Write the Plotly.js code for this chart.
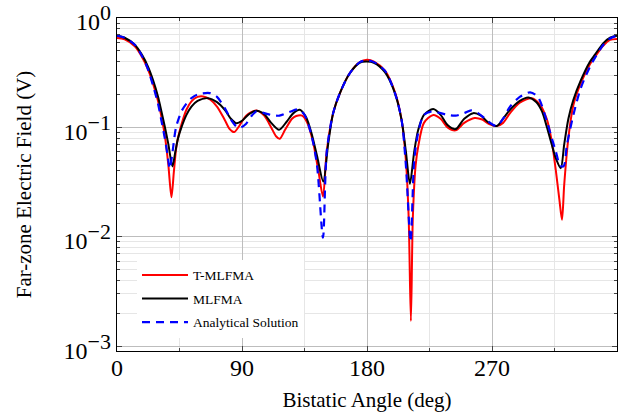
<!DOCTYPE html>
<html>
<head>
<meta charset="utf-8">
<script src="https://cdn.plot.ly/plotly-3.0.1.min.js"></script>
<style>html,body{margin:0;padding:0;background:#fff;}#chart{width:619px;height:420px;}</style>
</head>
<body>
<div id="chart"></div>
<script>
// T-MLFMA
var tmlfmaDeg = [0,5.5,12.8,18,22.3,26,29.5,32,34.4,37,39.2,41,43,46.4,50,53.6,58,62,67,72,77.6,81,84.3,88,93,100.4,106,111,114.5,117.2,121,126,129,133.3,137,141,145,148.3,151,155.6,160.5,167.7,174.9,180,185,192.9,200.1,204.9,208,210,211.6,213,215,216.9,221,227.7,233,238,243.8,250,257.5,263,268,273.4,278,283,290,298.6,304,309.4,313,316,318.5,320.4,322,325,328.6,334,340.6,344,350.2,355,360];
var tmlfmaVal = [0.656,0.64,0.55,0.44,0.34,0.25,0.175,0.125,0.085,0.045,0.023,0.04,0.07,0.106,0.145,0.173,0.19,0.192,0.18,0.155,0.117,0.097,0.0906,0.103,0.128,0.143,0.128,0.1,0.083,0.0787,0.095,0.12,0.127,0.128,0.11,0.075,0.04,0.0233,0.06,0.135,0.206,0.314,0.395,0.415,0.40,0.33,0.21,0.117,0.05,0.015,0.0017,0.015,0.045,0.067,0.11,0.13,0.12,0.1,0.094,0.11,0.122,0.118,0.107,0.103,0.11,0.135,0.168,0.185,0.165,0.12,0.075,0.04,0.022,0.0143,0.03,0.08,0.16,0.255,0.38,0.44,0.56,0.63,0.643];
// MLFMA
var mlfmaDeg = [0,5.5,12.8,18,22.3,26,29.5,32,34.4,37,39.9,42,44,46.4,50,53.6,58,65.6,72,77.6,82,86,90,95,100.4,106,111,116.7,122,127,131.6,136,140,144,148.5,152,155.6,160.5,167.7,174.9,180,185,192.9,200.1,204.9,208,210.9,214,216.9,221,227.7,233,238,243.8,250,256.5,262,267,273.4,278,283,290,296.2,302,306,309.4,313,316,319.5,322,325,328.6,334,340.6,344,350.2,355,360];
var mlfmaVal = [0.689,0.66,0.57,0.46,0.36,0.27,0.192,0.14,0.102,0.07,0.044,0.06,0.08,0.1,0.13,0.155,0.175,0.185,0.17,0.145,0.12,0.109,0.115,0.132,0.142,0.132,0.11,0.095,0.112,0.135,0.145,0.125,0.089,0.055,0.032,0.07,0.135,0.206,0.314,0.392,0.40,0.39,0.32,0.206,0.117,0.06,0.0305,0.06,0.095,0.13,0.147,0.13,0.105,0.0965,0.12,0.135,0.128,0.112,0.103,0.12,0.145,0.175,0.188,0.17,0.14,0.102,0.07,0.052,0.0424,0.07,0.12,0.179,0.27,0.40,0.46,0.59,0.66,0.689];
// Analytical Solution
var analyticDeg = [0,5.5,12.8,18,22.3,26,29.5,32,34.4,36.5,38,40,42.5,46.4,50,53.6,58,66.8,72,77.6,82,86,89,93,97,100.4,106,111,117,124,130.5,135,140,144,148.3,151,155.6,160.5,167.7,174.9,180,185,192.9,200.1,204.9,208,211.4,214,216.9,221,227,233,238,243.8,250,255,260,265,270,273.4,278,283,290,297.4,303,309.4,313,316,319,321.5,324,328.6,334,340.6,344,350.2,355,360];
var analyticVal = [0.69,0.66,0.57,0.45,0.34,0.24,0.165,0.115,0.08,0.055,0.042,0.06,0.1,0.14,0.165,0.185,0.2,0.206,0.19,0.15,0.118,0.102,0.1,0.108,0.128,0.14,0.135,0.13,0.128,0.138,0.146,0.13,0.085,0.045,0.0098,0.06,0.135,0.206,0.314,0.395,0.41,0.395,0.33,0.206,0.117,0.045,0.009,0.05,0.09,0.13,0.14,0.135,0.13,0.128,0.135,0.143,0.135,0.12,0.107,0.103,0.12,0.155,0.19,0.209,0.19,0.115,0.08,0.06,0.045,0.044,0.07,0.13,0.23,0.36,0.43,0.57,0.65,0.69];

var xTickVals = [0, 90, 180, 270];
var yTickVals = [1, 0.1, 0.01, 0.001];
var yTickText = ['10<sup><span style="font-size:22px">0</span></sup>',
                 '10<sup><span style="font-size:22px">\u22121</span></sup>',
                 '10<sup><span style="font-size:22px">\u22122</span></sup>',
                 '10<sup><span style="font-size:22px">\u22123</span></sup>'];

var FONT = '"Liberation Serif", "Times New Roman", serif';

var traces = [
  {x: tmlfmaDeg, y: tmlfmaVal, name: 'T-MLFMA', legendgroup: 'a', mode: 'lines',
   line: {color: '#ff0000', width: 2, shape: 'spline', smoothing: 0.8}},
  {x: mlfmaDeg, y: mlfmaVal, name: 'MLFMA', legendgroup: 'b', mode: 'lines',
   line: {color: '#000000', width: 2, shape: 'spline', smoothing: 0.8}},
  {x: analyticDeg, y: analyticVal, name: 'Analytical Solution', legendgroup: 'c', mode: 'lines',
   line: {color: '#0000ff', width: 2.2, dash: '8px,6px', shape: 'spline', smoothing: 0.8}}
];

var layout = {
  width: 619, height: 420,
  margin: {l: 117, r: 2, t: 18, b: 69},
  paper_bgcolor: '#fff', plot_bgcolor: '#fff',
  font: {family: FONT, color: '#000'},
  showlegend: true,
  legend: {x: 0.04, y: 0.04, xanchor: 'left', yanchor: 'bottom', bgcolor: '#fff', borderwidth: 0,
           font: {family: FONT, size: 13.5}, traceorder: 'grouped', tracegroupgap: 3, itemwidth: 46},
  xaxis: {
    range: [0, 360], tickmode: 'array', tickvals: xTickVals,
    ticks: 'inside', ticklen: 5, tickcolor: '#444', tickwidth: 1,
    showline: true, linecolor: '#000', linewidth: 1.2, mirror: 'allticks',
    showgrid: true, gridcolor: '#bdbdbd', gridwidth: 1, zeroline: false,
    tickfont: {family: FONT, size: 24}, ticklabelstandoff: -5, ticklabeloverflow: 'allow',
    minor: {dtick: 45, tick0: 0, ticks: 'inside', ticklen: 3, tickcolor: '#444', showgrid: true, gridcolor: '#e6e6e6', gridwidth: 1},
    title: {text: 'Bistatic Angle (deg)', font: {family: FONT, size: 21}, standoff: 12}
  },
  yaxis: {
    type: 'log', range: [-3.044, 0.0], tickmode: 'array', tickvals: yTickVals, ticktext: yTickText,
    ticks: 'inside', ticklen: 5, tickcolor: '#444', tickwidth: 1,
    showline: true, linecolor: '#000', linewidth: 1.2, mirror: 'allticks',
    showgrid: true, gridcolor: '#bdbdbd', gridwidth: 1, zeroline: false,
    tickfont: {family: FONT, size: 24}, ticklabeloverflow: 'allow', ticklabelshift: 4,
    minor: {dtick: 'D1', ticks: 'inside', ticklen: 3, tickcolor: '#444', showgrid: true, gridcolor: '#e6e6e6', gridwidth: 1},
    title: {text: 'Far-zone Electric Field (V)', font: {family: FONT, size: 21}, standoff: 26}
  }
};

Plotly.newPlot('chart', traces, layout, {displayModeBar: false, staticPlot: true});
</script>
</body>
</html>
